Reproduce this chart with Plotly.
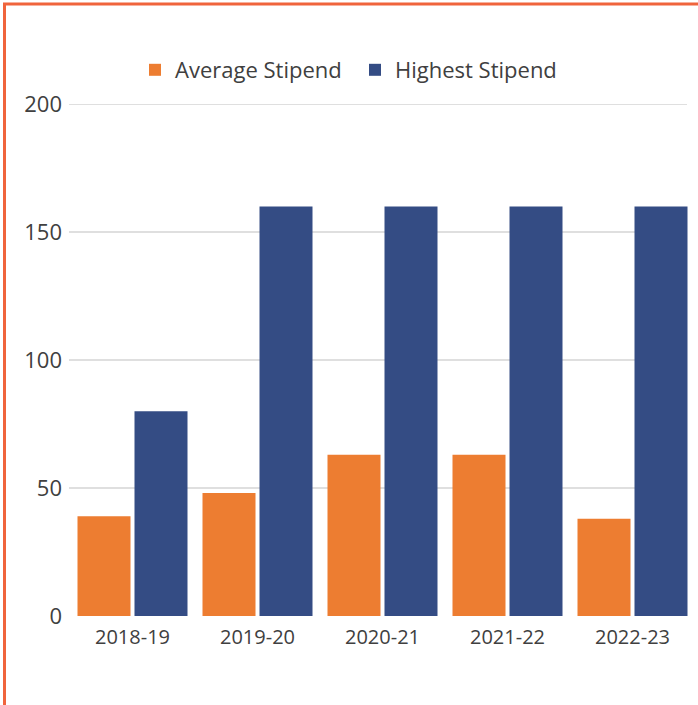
import plotly.graph_objects as go

categories = ["2018-19", "2019-20", "2020-21", "2021-22", "2022-23"]
average_stipend = [39, 48, 63, 63, 38]
highest_stipend = [80, 160, 160, 160, 160]
y_ticks = [0, 50, 100, 150, 200]

W, H = 698, 705
ml, mr, mt, mb = 70, 3, 104, 89
pw = W - ml - mr
ph = H - mt - mb

def px_to_paper_x(px):
    return (px - ml) / pw

def px_to_paper_y(py):
    return (H - mb - py) / ph

fig = go.Figure()
fig.add_trace(go.Bar(name="Average Stipend", x=categories, y=average_stipend, showlegend=True,
                     marker=dict(color="#ED7D31", line=dict(width=0)), legend="legend"))
fig.add_trace(go.Bar(name="Highest Stipend", x=categories, y=highest_stipend, showlegend=True,
                     marker=dict(color="#344C84", line=dict(width=0)), legend="legend2"))

border = "#F0643C"
fig.add_shape(type="line", xref="paper", yref="paper",
              x0=px_to_paper_x(4.5), x1=px_to_paper_x(4.5),
              y0=px_to_paper_y(3), y1=px_to_paper_y(710),
              line=dict(color=border, width=3))
fig.add_shape(type="line", xref="paper", yref="paper",
              x0=px_to_paper_x(3), x1=px_to_paper_x(705),
              y0=px_to_paper_y(4), y1=px_to_paper_y(4),
              line=dict(color=border, width=3))
# gridlines (shorter than the full category span, as in the reference)
for v in y_ticks[1:]:
    fig.add_shape(type="line", xref="paper", yref="y",
                  x0=px_to_paper_x(69), x1=px_to_paper_x(687), y0=v, y1=v,
                  line=dict(color="#BFBFBF", width=1), layer="below")

legend_common = dict(orientation="h", xanchor="left", yanchor="middle", y=px_to_paper_y(70),
                     font=dict(size=22, color="#404040"), itemwidth=30, bgcolor="rgba(0,0,0,0)")

fig.update_layout(
    width=W, height=H, showlegend=True,
    margin=dict(l=ml, r=mr, t=mt, b=mb, pad=0),
    paper_bgcolor="white", plot_bgcolor="white",
    barmode="group", bargap=0.088, bargroupgap=0.0702,
    font=dict(family="Open Sans, DejaVu Sans, sans-serif", color="#404040"),
    legend=dict(x=px_to_paper_x(175 - 40), **legend_common),
    legend2=dict(x=px_to_paper_x(395 - 40), **legend_common),
    xaxis=dict(showgrid=False, showline=False, ticks="", tickfont=dict(size=20, color="#404040"),
               ticklabelstandoff=7),
    yaxis=dict(range=[0, 200], tickvals=y_ticks, showgrid=False,
               zeroline=False, showline=False, ticks="", tickfont=dict(size=22, color="#404040"),
               ticklabelstandoff=7),
)

fig.write_html("out.html", config={"displayModeBar": False},
               post_script="document.body.style.margin='0';")
